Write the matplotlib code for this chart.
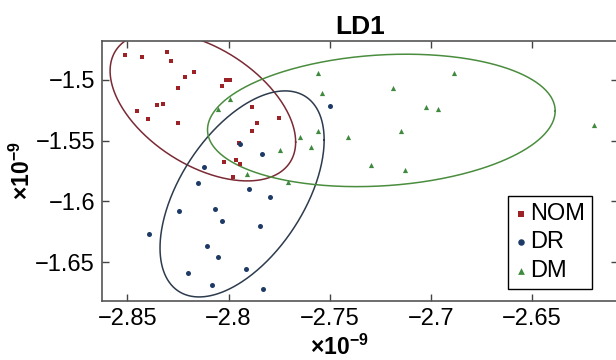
import numpy as np
import matplotlib
matplotlib.use("Agg")
import matplotlib.pyplot as plt

plt.rcParams['font.family'] = ['Liberation Sans', 'DejaVu Sans']
plt.rcParams['mathtext.fontset'] = 'custom'
plt.rcParams['mathtext.rm'] = 'Liberation Sans'
plt.rcParams['mathtext.bf'] = 'Liberation Sans:bold'

# LD scores (units of 1e-9)
nom_x = [-2.8510, -2.8426, -2.8302, -2.8284, -2.8215, -2.8172, -2.8252, -2.8013,
         -2.7994, -2.8032, -2.8356, -2.8324, -2.8454, -2.8398, -2.8252, -2.7886,
         -2.7861, -2.7751, -2.7886, -2.7964, -2.7941, -2.7977, -2.7949, -2.8022]
nom_y = [-1.4794, -1.4811, -1.4770, -1.4846, -1.4975, -1.4932, -1.5068, -1.5002,
         -1.5002, -1.5052, -1.5206, -1.5198, -1.5253, -1.5319, -1.5356, -1.5225,
         -1.5351, -1.5310, -1.5417, -1.5656, -1.5689, -1.5796, -1.5521, -1.5672]

dr_x = [-2.7944, -2.7834, -2.8122, -2.8149, -2.7901, -2.7797, -2.8246, -2.8066,
        -2.8033, -2.7844, -2.8395, -2.8109, -2.8050, -2.8201, -2.7914, -2.8084,
        -2.7830, -2.7497]
dr_y = [-1.5529, -1.5609, -1.5716, -1.5845, -1.5897, -1.5960, -1.6078, -1.6064,
        -1.6160, -1.6199, -1.6265, -1.6364, -1.6454, -1.6586, -1.6556, -1.6687,
        -1.6718, -1.5214]

dm_x = [-2.8053, -2.7994, -2.7746, -2.7908, -2.7644, -2.7591, -2.7558, -2.7705,
        -2.7556, -2.7540, -2.7411, -2.7185, -2.6883, -2.7025, -2.6964, -2.7149,
        -2.7296, -2.7127, -2.6192]
dm_y = [-1.5236, -1.5156, -1.5576, -1.5771, -1.5472, -1.5549, -1.5420, -1.5842,
        -1.4945, -1.5107, -1.5467, -1.5063, -1.4945, -1.5225, -1.5241, -1.5420,
        -1.5697, -1.5738, -1.5373]

# confidence ellipses: centre, half-extents, correlation
ell_cx = [-2.8127, -2.7933, -2.7244]
ell_cy = [-1.5218, -1.5938, -1.5333]
ell_sx = [0.0459, 0.0406, 0.0860]
ell_sy = [0.0613, 0.0848, 0.0545]
ell_rho = [-0.478, 0.524, 0.142]

labels = ['NOM', 'DR', 'DM']
pt_colors = ['#9c2226', '#1d3b66', '#3f8a3f']
ell_colors = ['#7a2a34', '#2c3b4d', '#4a8d3e']
markers = ['s', 'o', '^']
msizes = [9, 13, 14]

fig = plt.figure(figsize=(6.16, 3.6), dpi=100)
ax = fig.add_axes([0.1656, 0.1647, 0.8377, 0.7222])

groups = [(nom_x, nom_y), (dr_x, dr_y), (dm_x, dm_y)]
for i, (gx, gy) in enumerate(groups):
    ax.scatter(gx, gy, marker=markers[i], s=msizes[i], color=pt_colors[i],
               linewidths=0, label=labels[i], zorder=3)

t = np.linspace(0, 2 * np.pi, 400)
for i in range(3):
    ex = ell_cx[i] + ell_sx[i] * np.cos(t)
    ey = ell_cy[i] + ell_sy[i] * (ell_rho[i] * np.cos(t)
                                  + np.sqrt(1 - ell_rho[i] ** 2) * np.sin(t))
    ax.plot(ex, ey, color=ell_colors[i], lw=1.1, zorder=2)

ax.set_xlim(-2.8626, -2.6073)
ax.set_ylim(-1.6817, -1.4677)
ax.set_xticks([-2.85, -2.8, -2.75, -2.7, -2.65])
ax.set_xticklabels(['\u22122.85', '\u22122.8', '\u22122.75', '\u22122.7', '\u22122.65'])
ax.set_yticks([-1.5, -1.55, -1.6, -1.65])
ax.set_yticklabels(['\u22121.5', '\u22121.55', '\u22121.6', '\u22121.65'])
ax.tick_params(direction='in', length=5, width=1, colors='#444444',
               labelcolor='black', labelsize=17, top=True, right=True, pad=5)
for sp in ax.spines.values():
    sp.set_color('#555555')
    sp.set_linewidth(1.2)

ax.set_title('LD1', fontsize=19, fontweight='bold', y=1.025, pad=0)
ax.set_xlabel(r'$\mathbf{\times 10^{-9}}$', fontsize=16.5)
ax.set_ylabel(r'$\mathbf{\times 10^{-9}}$', fontsize=16.5)
ax.xaxis.set_label_coords(0.46, -0.13)
ax.yaxis.set_label_coords(-0.13, 0.5)

leg = ax.legend(loc='lower right', bbox_to_anchor=(0.95, 0.045), fontsize=17,
                frameon=True, fancybox=False, edgecolor='black', framealpha=1,
                handletextpad=0.15, borderpad=0.3, labelspacing=0.28,
                markerscale=1.3, handlelength=0.5, borderaxespad=0)
leg.get_frame().set_linewidth(1.0)

fig.savefig('out.png', dpi=100)
